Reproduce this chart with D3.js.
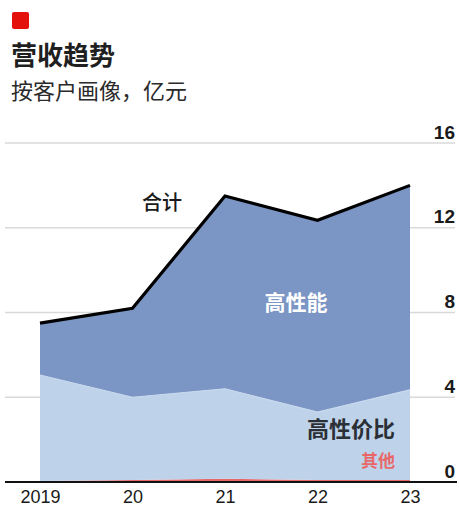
<!DOCTYPE html>
<html><head><meta charset="utf-8">
<script src="https://cdn.jsdelivr.net/npm/d3@7"></script>
<style>
html,body{margin:0;padding:0;background:#fff;}
svg{display:block;}
</style></head>
<body>
<script>
const years = ["2019","20","21","22","23"];
const other = [0.05, 0.1, 0.15, 0.1, 0.1];          // 其他
const valueSeg = [5.0, 3.9, 4.25, 3.2, 4.25];       // 高性价比
const perfSeg = [2.45, 4.2, 9.1, 9.05, 9.65];       // 高性能
const yTicks = [0, 4, 8, 12, 16];
const title = "营收趋势";
const subtitle = "按客户画像，亿元";

const W = 459, H = 506;
const svg = d3.select("body").append("svg").attr("width", W).attr("height", H);
const cjk = "'Noto Sans CJK SC','Noto Sans',sans-serif";
const num = "'Liberation Sans','Helvetica',Arial,sans-serif";

const x = d3.scalePoint().domain(years).range([40, 410]);
const y = d3.scaleLinear().domain([0, 16]).range([482, 143]);

// header
svg.append("rect").attr("x", 12).attr("y", 12).attr("width", 17).attr("height", 17).attr("rx", 2).attr("fill", "#e3120b");
svg.append("text").attr("x", 11).attr("y", 65).text(title)
  .attr("font-family", cjk).attr("font-size", 26).attr("font-weight", 700).attr("fill", "#1f1f1f");
svg.append("text").attr("x", 11).attr("y", 99).text(subtitle)
  .attr("font-family", cjk).attr("font-size", 22).attr("fill", "#2a2a2a");

// gridlines
const yAxis = d3.axisRight(y).tickValues(yTicks).tickSize(0).tickFormat(d3.format("d"));
svg.append("g").selectAll("line").data(yTicks.filter(d => d > 0)).join("line")
  .attr("x1", 5).attr("x2", 455).attr("y1", d => y(d)).attr("y2", d => y(d))
  .attr("stroke", "#d9d9d9").attr("stroke-width", 1.3);

// stacked areas
const rows = years.map((yr, i) => ({year: yr, other: other[i], value: valueSeg[i], perf: perfSeg[i]}));
const stack = d3.stack().keys(["other", "value", "perf"]);
const series = stack(rows);
const colors = {other: "#e8686a", value: "#bed3ea", perf: "#7b95c4"};
const area = d3.area().x(d => x(d.data.year)).y0(d => y(d[0])).y1(d => y(d[1]));
svg.append("g").selectAll("path").data(series).join("path")
  .attr("d", area).attr("fill", d => colors[d.key]);
// light edge between value and perf
const edge = d3.line().x(d => x(d.data.year)).y(d => y(d[1]));
svg.append("path").attr("d", edge(series[1])).attr("fill", "none")
  .attr("stroke", "#c9d9ee").attr("stroke-width", 1.2);

// total line
const totals = rows.map(r => ({year: r.year, v: r.other + r.value + r.perf}));
svg.append("path").datum(totals)
  .attr("d", d3.line().x(d => x(d.year)).y(d => y(d.v)))
  .attr("fill", "none").attr("stroke", "#000").attr("stroke-width", 3.2).attr("stroke-linejoin", "miter");

// baseline
svg.append("line").attr("x1", 5).attr("x2", 457).attr("y1", y(0)).attr("y2", y(0))
  .attr("stroke", "#111").attr("stroke-width", 1.8);

// y labels
const gy = svg.append("g").attr("transform", "translate(455,0)").call(yAxis);
gy.select(".domain").remove();
gy.selectAll("text").attr("x", 0).attr("dy", 0).attr("y", -5)
  .attr("text-anchor", "end").attr("font-family", num).attr("font-size", 19)
  .attr("font-weight", 700).attr("fill", "#1a1a1a");

// x labels
const xAxis = d3.axisBottom(x).tickSize(0);
const gx = svg.append("g").attr("transform", `translate(0,${y(0)})`).call(xAxis);
gx.select(".domain").remove();
gx.selectAll("text").attr("y", 21).attr("dy", 0)
  .attr("font-family", num).attr("font-size", 18).attr("fill", "#1a1a1a");

// series labels
svg.append("text").attr("x", 162).attr("y", 210).attr("text-anchor", "middle").text("合计")
  .attr("font-family", cjk).attr("font-size", 20).attr("font-weight", 500).attr("fill", "#1a1a1a");
svg.append("text").attr("x", 296).attr("y", 310).attr("text-anchor", "middle").text("高性能")
  .attr("font-family", cjk).attr("font-size", 21).attr("font-weight", 700).attr("fill", "#ffffff");
svg.append("text").attr("x", 351).attr("y", 437).attr("text-anchor", "middle").text("高性价比")
  .attr("font-family", cjk).attr("font-size", 22).attr("font-weight", 700).attr("fill", "#2b2f36");
svg.append("text").attr("x", 378).attr("y", 467).attr("text-anchor", "middle").text("其他")
  .attr("font-family", cjk).attr("font-size", 17).attr("font-weight", 700).attr("fill", "#e8686a");
</script>
</body></html>
